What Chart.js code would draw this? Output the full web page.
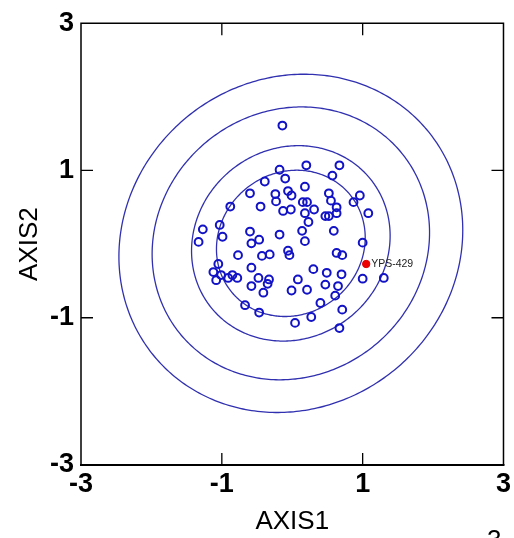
<!DOCTYPE html>
<html>
<head>
<meta charset="utf-8">
<script src="https://cdn.jsdelivr.net/npm/chart.js@4.4.1/dist/chart.umd.min.js"></script>
<style>
  html, body { margin: 0; padding: 0; background: #ffffff; }
  #wrap { width: 514px; height: 538px; position: relative; }
</style>
</head>
<body>
<div id="wrap"><canvas id="c" width="514" height="538"></canvas></div>
<script>
// ---- data ----
const xTickValues = [-3, -1, 1, 3];
const yTickValues = [-3, -1, 1, 3];
const innerTickValues = [-1, 1];
const xAxisTitle = 'AXIS1';
const yAxisTitle = 'AXIS2';

const sampleX = [-0.14, 0.20, 0.67, -0.18, 0.57, -0.39, -0.10, 0.18, -0.60, -0.24,
  -0.06, -0.01, 0.52, 0.96, -0.23, 0.15, 0.21, 0.55, 0.87, -0.88,
  -0.45, 0.63, -0.02, -0.13, 0.31, 0.18, 0.47, 0.52, 0.63, 1.08,
  0.23, -1.27, -1.03, -0.60, -0.18, 0.14, 0.59, -0.99, -1.33, -0.47,
  -0.58, 0.18, 1.00, -0.77, -0.43, -0.32, -0.06, -0.04, 0.63, 0.71,
  -1.05, -0.58, 0.30, -1.12, 0.49, 0.70, -1.01, -0.85, -0.91, -0.78,
  -1.08, -0.48, -0.33, -0.35, 0.08, 1.00, 1.30, -0.58, 0.47, 0.65,
  0.21, -0.01, -0.41, 0.61, -0.67, 0.40, 0.71, -0.47, 0.27, 0.04, 0.67];
const sampleY = [1.61, 1.07, 1.07, 1.01, 0.93, 0.85, 0.89, 0.78, 0.69, 0.68,
  0.72, 0.66, 0.69, 0.66, 0.58, 0.57, 0.57, 0.59, 0.57, 0.51,
  0.51, 0.50, 0.47, 0.45, 0.47, 0.42, 0.38, 0.38, 0.42, 0.42,
  0.30, 0.20, 0.26, 0.17, 0.13, 0.18, 0.18, 0.10, 0.03, 0.06,
  0.01, 0.04, 0.02, -0.15, -0.16, -0.14, -0.09, -0.15, -0.12, -0.15,
  -0.27, -0.32, -0.34, -0.38, -0.39, -0.41, -0.42, -0.42, -0.46, -0.46,
  -0.49, -0.46, -0.48, -0.54, -0.48, -0.47, -0.46, -0.57, -0.55, -0.57,
  -0.62, -0.63, -0.66, -0.70, -0.83, -0.80, -0.89, -0.93, -0.99, -1.07, -1.14];

const highlightX = [1.05];
const highlightY = [-0.27];
const highlightLabels = ['YPS-429'];

// confidence ellipses (center, semi-axes, rotation)
const ellipseCenter = [-0.02, 0.01];
const ellipseMajor = [1.075, 1.435, 2.005, 2.485];
const ellipseMinor = [0.973, 1.30, 1.815, 2.25];
const ellipseAngleDeg = 26;

// ---- styling ----
const FONT_FAMILY = '"Liberation Sans", Arial, Helvetica, sans-serif';
const pointBlue = '#1212c6';
const ellipseBlue = '#3030b0';

const ellipsePlugin = {
  id: 'ellipses',
  beforeDatasetsDraw(chart) {
    const { ctx, chartArea, scales: { x, y } } = chart;
    ctx.save();
    ctx.beginPath();
    ctx.rect(chartArea.left, chartArea.top, chartArea.right - chartArea.left, chartArea.bottom - chartArea.top);
    ctx.clip();
    ctx.strokeStyle = ellipseBlue;
    ctx.lineWidth = 1.3;
    const th = ellipseAngleDeg * Math.PI / 180;
    for (let k = 0; k < ellipseMajor.length; k++) {
      const a = ellipseMajor[k], b = ellipseMinor[k];
      ctx.beginPath();
      for (let i = 0; i <= 360; i++) {
        const t = i * Math.PI / 180;
        const dx = a * Math.cos(th) * Math.cos(t) - b * Math.sin(th) * Math.sin(t);
        const dy = a * Math.sin(th) * Math.cos(t) + b * Math.cos(th) * Math.sin(t);
        const px = x.getPixelForValue(ellipseCenter[0] + dx);
        const py = y.getPixelForValue(ellipseCenter[1] + dy);
        if (i === 0) ctx.moveTo(px, py); else ctx.lineTo(px, py);
      }
      ctx.closePath();
      ctx.stroke();
    }
    ctx.restore();
  }
};

const framePlugin = {
  id: 'frame',
  afterDatasetsDraw(chart) {
    const { ctx, chartArea: ca, scales: { x, y } } = chart;
    ctx.save();
    ctx.strokeStyle = '#000000';
    ctx.lineWidth = 1.5;
    ctx.beginPath();
    ctx.moveTo(ca.left, ca.bottom);
    ctx.lineTo(ca.left, ca.top);
    ctx.lineTo(ca.right, ca.top);
    ctx.lineTo(ca.right, ca.bottom);
    ctx.stroke();
    ctx.lineWidth = 2;
    ctx.beginPath();
    ctx.moveTo(ca.left - 1, ca.bottom);
    ctx.lineTo(ca.right + 1, ca.bottom);
    ctx.stroke();
    const L = 12;
    ctx.lineWidth = 1.3;
    ctx.beginPath();
    innerTickValues.forEach(v => {
      const px = x.getPixelForValue(v);
      ctx.moveTo(px, ca.bottom); ctx.lineTo(px, ca.bottom - L);
      ctx.moveTo(px, ca.top); ctx.lineTo(px, ca.top + L);
      const py = y.getPixelForValue(v);
      ctx.moveTo(ca.left, py); ctx.lineTo(ca.left + L, py);
      ctx.moveTo(ca.right, py); ctx.lineTo(ca.right - L, py);
    });
    ctx.stroke();
    // point label
    ctx.fillStyle = '#222222';
    ctx.font = '10.5px ' + FONT_FAMILY;
    ctx.textBaseline = 'middle';
    ctx.textAlign = 'left';
    highlightLabels.forEach((lab, i) => {
      ctx.fillText(lab, x.getPixelForValue(highlightX[i]) + 5, y.getPixelForValue(highlightY[i]));
    });
    // cut-off text at the bottom-right corner of the picture
    ctx.fillStyle = '#000000';
    ctx.font = '26px ' + FONT_FAMILY;
    ctx.textBaseline = 'alphabetic';
    ctx.fillText('3-', 487, 548);
    ctx.restore();
  }
};

const tickFont = { family: FONT_FAMILY, size: 27, weight: '600' };
const titleFont = { family: FONT_FAMILY, size: 26 };

new Chart(document.getElementById('c'), {
  type: 'scatter',
  data: {
    datasets: [
      {
        label: 'samples',
        data: sampleX.map((v, i) => ({ x: v, y: sampleY[i] })),
        pointStyle: 'circle',
        pointRadius: 3.9,
        pointBorderWidth: 2,
        borderColor: pointBlue,
        backgroundColor: 'rgba(0,0,0,0)'
      },
      {
        label: 'YPS-429',
        data: highlightX.map((v, i) => ({ x: v, y: highlightY[i] })),
        pointStyle: 'circle',
        pointRadius: 3.7,
        pointBorderWidth: 1,
        borderColor: '#e00000',
        backgroundColor: '#ee0000'
      }
    ]
  },
  options: {
    responsive: false,
    animation: false,
    devicePixelRatio: 1,
    layout: { padding: { top: 21, right: 8, left: 0, bottom: 0 } },
    plugins: { legend: { display: false }, tooltip: { enabled: false } },
    scales: {
      x: {
        type: 'linear', min: -3, max: 3,
        afterBuildTicks: s => { s.ticks = xTickValues.map(v => ({ value: v })); },
        afterFit: s => { s.height = 73; },
        grid: { display: false, drawTicks: false },
        border: { display: false },
        ticks: { font: tickFont, color: '#000', padding: 3, maxRotation: 0, autoSkip: false },
        title: { display: true, text: xAxisTitle, font: titleFont, color: '#000', padding: { top: 0, bottom: 1 } }
      },
      y: {
        type: 'linear', min: -3, max: 3,
        afterBuildTicks: s => { s.ticks = yTickValues.map(v => ({ value: v })); },
        afterFit: s => { s.width = 81; },
        grid: { display: false, drawTicks: false },
        border: { display: false },
        ticks: { font: tickFont, color: '#000', padding: 7, autoSkip: false },
        title: { display: true, text: yAxisTitle, font: titleFont, color: '#000', padding: { top: 14, bottom: 0 } }
      }
    }
  },
  plugins: [ellipsePlugin, framePlugin]
});
</script>
</body>
</html>
